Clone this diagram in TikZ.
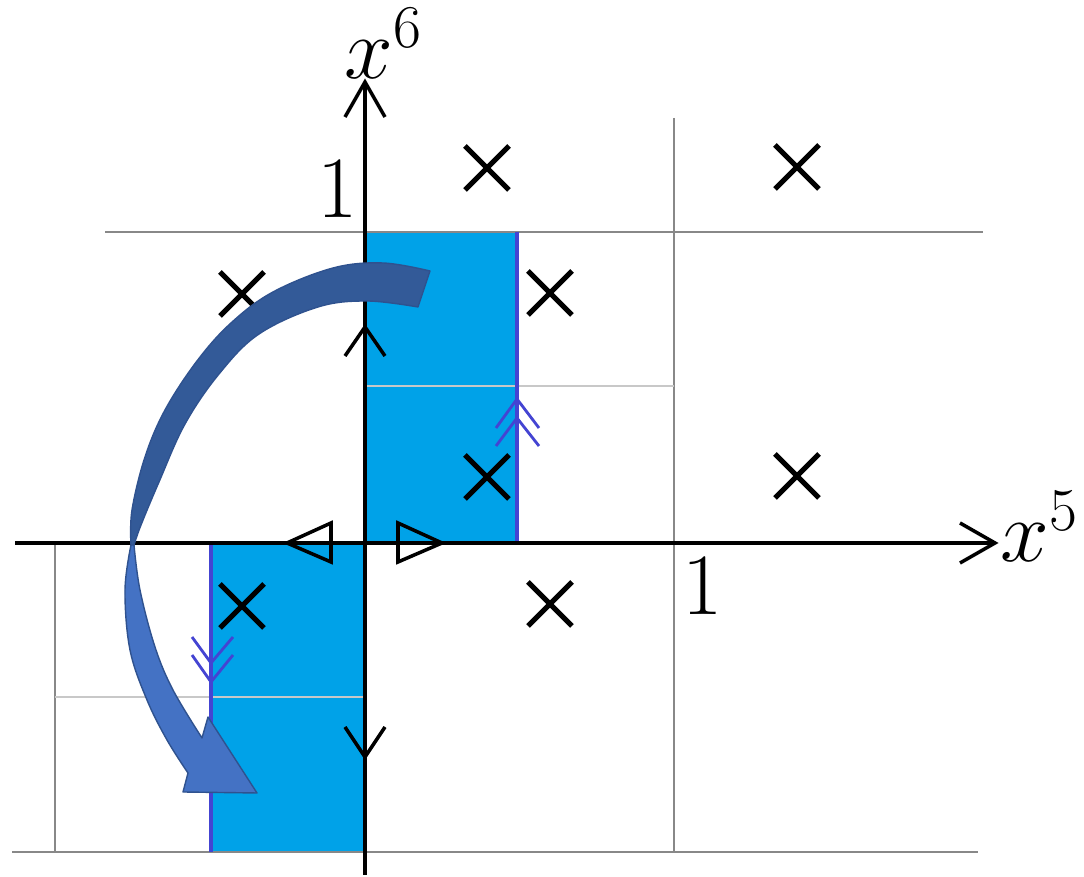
\documentclass[tikz,border=0pt]{standalone}
\usepackage{tikz}
\definecolor{skyfill}{RGB}{0,162,232}
\definecolor{edgeblue}{RGB}{68,68,210}
\definecolor{gridgray}{RGB}{136,136,136}
\definecolor{lightgrid}{RGB}{200,200,200}
\definecolor{arrowdark}{RGB}{51,90,152}
\definecolor{arrowlight}{RGB}{68,114,196}
\definecolor{arrowedge}{RGB}{47,82,143}
\tikzset{
  gridline/.style={gridgray, line width=0.6pt},
  softline/.style={lightgrid, line width=0.6pt},
  axisline/.style={black, line width=1pt},
  headline/.style={black, line width=1pt, line join=miter},
  crossmark/.style={black, line width=1.45pt},
  blueedge/.style={edgeblue, line width=0.9pt},
  chevron/.style={edgeblue, line width=0.8pt, line join=miter},
  bigarrow/.style={draw=arrowedge, line width=0.4pt, line join=round},
  lbl/.style={inner sep=0pt, font=\fontsize{26.5}{30}\selectfont}
}
\begin{document}
\begin{tikzpicture}[x=0.01cm, y=-0.01cm]
\useasboundingbox (0,0) rectangle (1084,877);
% blue strips
\fill[skyfill] (365,232) rectangle (517,543);
\fill[skyfill] (210,543) rectangle (365,852);
% grid lines
\draw[gridline] (105,232) -- (983,232);
\draw[gridline] (674,118) -- (674,852);
\draw[gridline] (12,852) -- (978,852);
\draw[gridline] (55,543) -- (55,852);
\draw[softline] (365,386) -- (674,386);
\draw[softline] (55,697) -- (365,697);
% blue edges with double chevrons
\draw[blueedge] (517,232) -- (517,543);
\draw[blueedge] (211,543) -- (211,852);
\draw[chevron] (496,428) -- (517,399) -- (539,428);
\draw[chevron] (496,446) -- (517,418) -- (539,446);
\draw[chevron] (192,637) -- (211,663) -- (233,637);
\draw[chevron] (192,655) -- (211,682) -- (233,655);
% axes
\coordinate (xs) at (15,543);
\coordinate (xe) at (995,543);
\coordinate (ys) at (365,875);
\coordinate (ye) at (365,82);
\draw[axisline] (xs) -- (xe);
\draw[axisline] (ys) -- (ye);
\draw[headline] (960,523) -- (xe) -- (960,563);
\draw[headline] (345,117) -- (ye) -- (385,117);
% direction marks on axes
\draw[headline] (345,356) -- (365,327) -- (385,356);
\draw[headline] (345,727) -- (365,757) -- (385,727);
\draw[headline] (287,543) -- (331,523) -- (331,562) -- cycle;
\draw[headline] (442,543) -- (398,523) -- (398,562) -- cycle;
% labels
\node[lbl, anchor=base west] (lx6) at (344,79) {$x^6$};
\node[lbl, anchor=base west] (lx5) at (1000,562) {$x^5$};
\node[lbl, anchor=base] (one6) at (338,218) {$1$};
\node[lbl, anchor=base] (one5) at (703,615) {$1$};
% crosses
\foreach \cx/\cy in {487/168, 797/167, 242/294, 550/293, 487/477, 797/476, 242/606, 550/604}{
  \draw[crossmark] (\cx-22,\cy-22) -- (\cx+22,\cy+22);
  \draw[crossmark] (\cx-22,\cy+22) -- (\cx+22,\cy-22);
}
% big twisted curved arrow
\fill[arrowdark, bigarrow]
  plot[smooth, tension=0.6] coordinates {(430,271) (383,263) (333,268) (273,292) (231,323) (197,361) (165,410) (145,457) (132,510) (131,545)}
  -- plot[smooth, tension=0.6] coordinates {(134,545) (141,525) (159,482) (185,424) (219,374) (259,334) (318,307) (367,301) (418,307)}
  -- cycle;
\fill[arrowlight, bigarrow]
  plot[smooth, tension=0.6] coordinates {(131,545) (125,590) (130,650) (147,700) (167,740) (188,773)}
  -- (183,792) -- (257,793) -- (208,717) -- (202,738)
  -- plot[smooth, tension=0.6] coordinates {(202,738) (173,690) (155,647) (140,590) (134,545)}
  -- cycle;
\end{tikzpicture}
\end{document}
